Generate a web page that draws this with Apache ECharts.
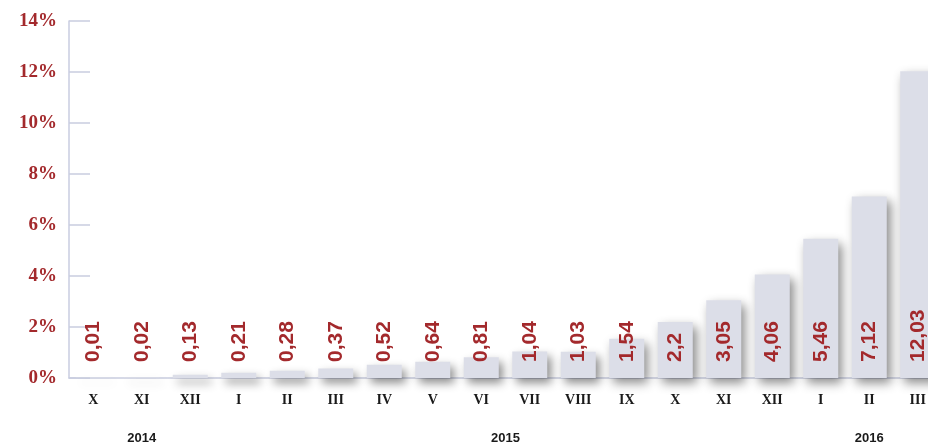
<!DOCTYPE html>
<html>
<head>
<meta charset="utf-8">
<script src="https://cdn.jsdelivr.net/npm/echarts@6/dist/echarts.min.js"></script>
<style>
  html, body { margin: 0; padding: 0; background: #fff; }
  #chart { width: 928px; height: 444px; }
</style>
</head>
<body>
<div id="chart"></div>
<script>
// months (roman numerals), Oct 2014 .. Mar 2016
const months = ['X', 'XI', 'XII', 'I', 'II', 'III', 'IV', 'V', 'VI', 'VII', 'VIII', 'IX', 'X', 'XI', 'XII', 'I', 'II', 'III']
const values = [0.01, 0.02, 0.13, 0.21, 0.28, 0.37, 0.52, 0.64, 0.81, 1.04, 1.03, 1.54, 2.2, 3.05, 4.06, 5.46, 7.12, 12.03]
// year groups: first and last month index
const years = ['2014', '2015', '2016']
const yearStart = [0, 3, 15]
const yearEnd = [2, 14, 17]
const yTicks = [0, 2, 4, 6, 8, 10, 12, 14]

const red = '#a3292c'
const axisColor = '#c9cde0'

// centre of each year group, in category units
const yearCenters = years.map((y, i) => (yearStart[i] + yearEnd[i]) / 2)

const myChart = echarts.init(document.getElementById('chart'))
const option = {
  animation: false,
  grid: {
    left: 69,
    top: 21,
    bottom: 66,
    right: -14, // last bar is cut by the right edge, as in the original
    outerBoundsMode: 'none',
    containLabel: false
  },
  xAxis: [{
    type: 'category',
    data: months,
    axisLine: { lineStyle: { color: axisColor, width: 1.5 } },
    axisTick: { inside: true, length: 8, lineStyle: { color: '#e4e5ec' } },
    axisLabel: {
      interval: 0,
      margin: 15,
      color: '#1a1a1a',
      fontFamily: 'Liberation Serif',
      fontWeight: 'bold',
      fontSize: 14
    }
  }, {
    type: 'value',
    position: 'bottom',
    offset: 46,
    min: -0.5,
    max: 17.5,
    interval: 0.5,
    axisLine: { show: false },
    axisTick: { show: false },
    splitLine: { show: false },
    axisLabel: {
      margin: 8,
      color: '#1a1a1a',
      fontFamily: 'Liberation Sans',
      fontWeight: 'bold',
      fontSize: 13,
      formatter: function (v) {
        const i = yearCenters.indexOf(v)
        return i >= 0 ? years[i] : ''
      }
    }
  }],
  yAxis: {
    type: 'value',
    min: yTicks[0],
    max: yTicks[yTicks.length - 1],
    interval: 2,
    axisLine: { show: true, onZero: false, lineStyle: { color: axisColor, width: 1.5 } },
    axisTick: { show: true, inside: true, length: 21, lineStyle: { color: axisColor, width: 1.5 } },
    splitLine: { show: false },
    axisLabel: {
      margin: 12,
      color: red,
      fontFamily: 'Liberation Serif',
      fontWeight: 'bold',
      fontSize: 19,
      formatter: '{value}%'
    }
  },
  series: [{
    type: 'bar',
    data: values,
    barWidth: 35,
    itemStyle: {
      color: '#dcdee8',
      shadowColor: 'rgba(0,0,0,0.45)',
      shadowBlur: 10,
      shadowOffsetX: 4,
      shadowOffsetY: 5
    },
    label: {
      show: true,
      position: 'insideBottom',
      distance: 16,
      rotate: 90,
      align: 'left',
      verticalAlign: 'middle',
      color: red,
      fontFamily: 'Liberation Sans',
      fontWeight: 'bold',
      fontSize: 21,
      formatter: function (p) {
        return String(p.value).replace('.', ',')
      }
    }
  }]
}
myChart.setOption(option, true)
</script>
</body>
</html>
